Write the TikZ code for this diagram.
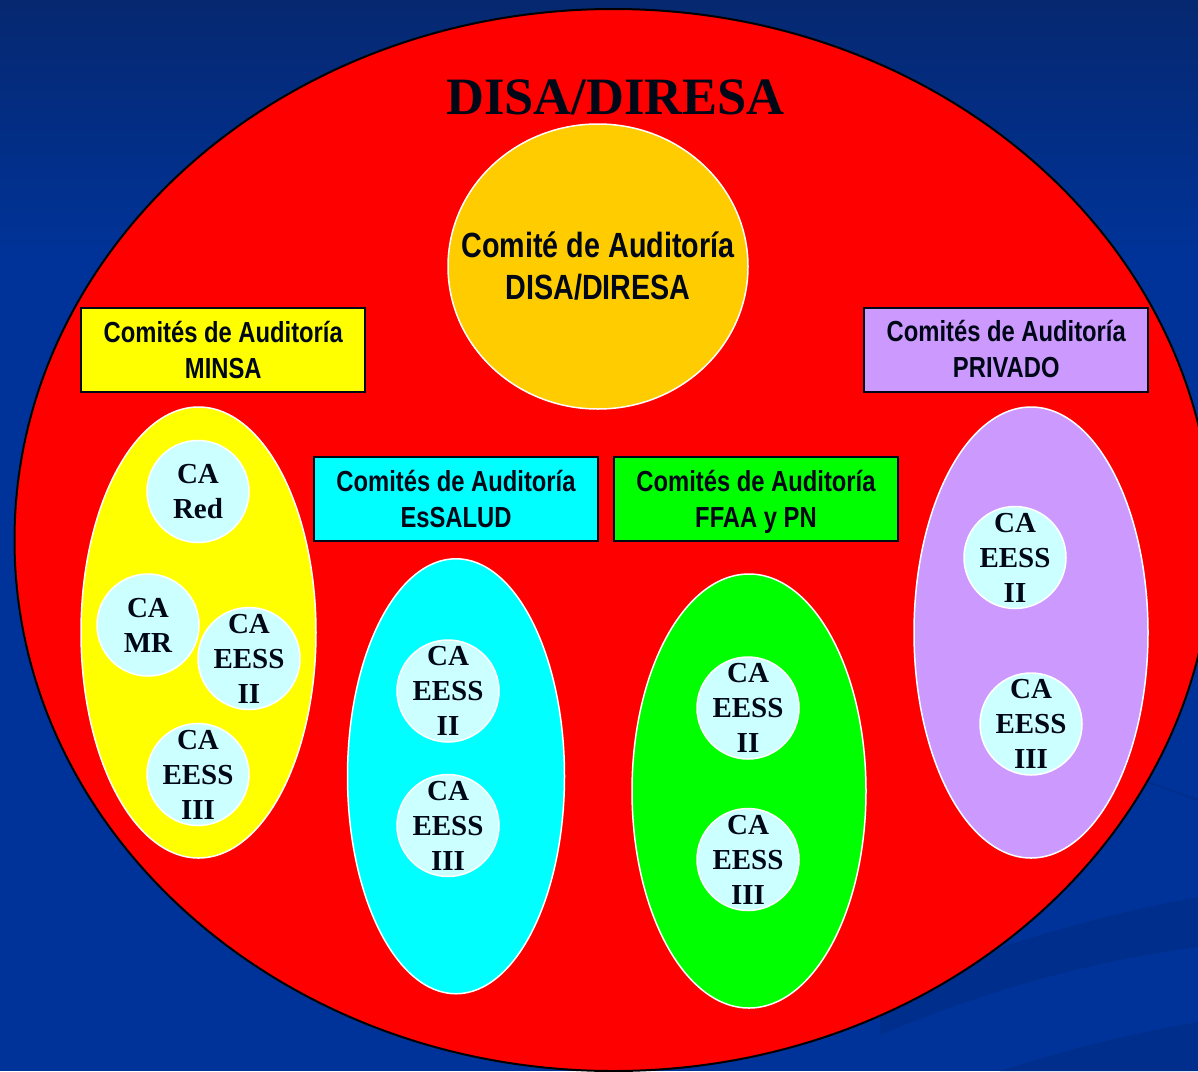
\documentclass[tikz,border=0pt]{standalone}
\usepackage{fontspec}
\usetikzlibrary{shapes.geometric,positioning}

\newfontfamily\arialn[FakeStretch=0.82]{Liberation Sans}
\newfontfamily\timesr{Liberation Serif}

\definecolor{bgblue}{RGB}{0,51,153}
\definecolor{bgtop}{RGB}{6,40,112}
\definecolor{bgband}{RGB}{0,46,140}
\definecolor{disared}{RGB}{255,0,0}
\definecolor{disaorange}{RGB}{255,204,0}
\definecolor{minsayellow}{RGB}{255,255,0}
\definecolor{essaludcyan}{RGB}{0,255,255}
\definecolor{ffaagreen}{RGB}{0,255,0}
\definecolor{privlilac}{RGB}{204,153,255}
\definecolor{cafill}{RGB}{204,255,255}
\definecolor{ink}{RGB}{0,8,24}

\tikzset{
  group/.style={shape=ellipse, draw=white, line width=1.5pt, inner sep=0pt},
  comite/.style={shape=rectangle, draw=ink, line width=2pt, minimum width=284pt, minimum height=84pt, align=center, text=ink, font=\arialn\bfseries\fontsize{29}{36}\selectfont},
  ca/.style={shape=circle, draw=white, line width=1.5pt, fill=cafill, minimum size=102pt, inner sep=0pt},
  catext/.style={align=center, text=ink, font=\timesr\bfseries\fontsize{29}{35}\selectfont},
}

\begin{document}
\begin{tikzpicture}[x=1pt,y=-1pt]
    \useasboundingbox (0,0) rectangle (1198,1071);
    \clip (0,0) rectangle (1198,1071);
    % background
    \fill[bgblue] (0,0) rectangle (1198,1071);
    \shade[top color=bgtop, bottom color=bgblue] (0,0) rectangle (1198,260);
    \fill[bgband] (880,1035) .. controls (1000,985) and (1100,960) .. (1198,947) -- (1198,897) .. controls (1100,915) and (990,945) .. (880,995) -- cycle;
    \fill[bgband] (1000,1071) .. controls (1080,1045) and (1150,1030) .. (1198,1022) -- (1198,1071) -- cycle;
    \draw[bgband, line width=2pt] (1120,772) -- (1198,800);
    % the DISA/DIRESA area
    \node (disa) [shape=ellipse, draw=black, line width=2pt, fill=disared, inner sep=0pt, minimum width=1198pt, minimum height=1062pt] at (613.5,540) {};
    \node (title) [anchor=base, text=ink, font=\timesr\bfseries\fontsize{52.5}{60}\selectfont] at (615.5,114) {DISA/DIRESA};
    \node (cadisa) [group, fill=disaorange, minimum width=300pt, minimum height=285pt, label={[align=center, text=ink, font=\arialn\bfseries\fontsize{35}{42}\selectfont]center:Comité de Auditoría\\DISA/DIRESA}] at (598,266.5) {};
    % the committee boxes
    \node (minsa) [comite, fill=minsayellow] at (223.25,350) {Comités de Auditoría\\MINSA};
    \node (privado) [comite, fill=privlilac] at (1006.25,349.5) {Comités de Auditoría\\PRIVADO};
    \node (essalud) [comite, fill=essaludcyan] at (456,499) {Comités de Auditoría\\EsSALUD};
    \node (ffaa) [comite, fill=ffaagreen, right=14pt of essalud] {Comités de Auditoría\\FFAA \smash{y} PN};
    % the groups
    \node (gminsa) [group, fill=minsayellow, minimum width=235pt, minimum height=451pt] at (198.5,632.5) {};
    \node (gessalud) [group, fill=essaludcyan, minimum width=217pt, minimum height=435pt, below=16pt of essalud] {};
    \node (gffaa) [group, fill=ffaagreen, minimum width=234pt, minimum height=434pt] at (749,791) {};
    \node (gprivado) [group, fill=privlilac, minimum width=234pt, minimum height=451pt] at (1031,632.5) {};
    % the CA circles
    \node (mred) [ca, label={[catext]center:CA\\Red}] at (198,491.5) {};
    \node (mmr) [ca, label={[catext]center:CA\\MR}] at (148,625) {};
    \node (meessii) [ca, label={[catext]center:CA\\EESS\\II}] at (249,658.5) {};
    \node (meessiii) [ca, label={[catext]center:CA\\EESS\\III}] at (198,774.5) {};
    \node (seessii) [ca, label={[catext]center:CA\\EESS\\II}] at (448,691) {};
    \node (seessiii) [ca, below=31pt of seessii, label={[catext]center:CA\\EESS\\III}] {};
    \node (feessii) [ca, label={[catext]center:CA\\EESS\\II}] at (748,708) {};
    \node (feessiii) [ca, below=48pt of feessii, label={[catext]center:CA\\EESS\\III}] {};
    \node (peessii) [ca, label={[catext]center:CA\\EESS\\II}] at (1015,557.5) {};
    \node (peessiii) [ca, label={[catext]center:CA\\EESS\\III}] at (1031,724) {};
\end{tikzpicture}
\end{document}
